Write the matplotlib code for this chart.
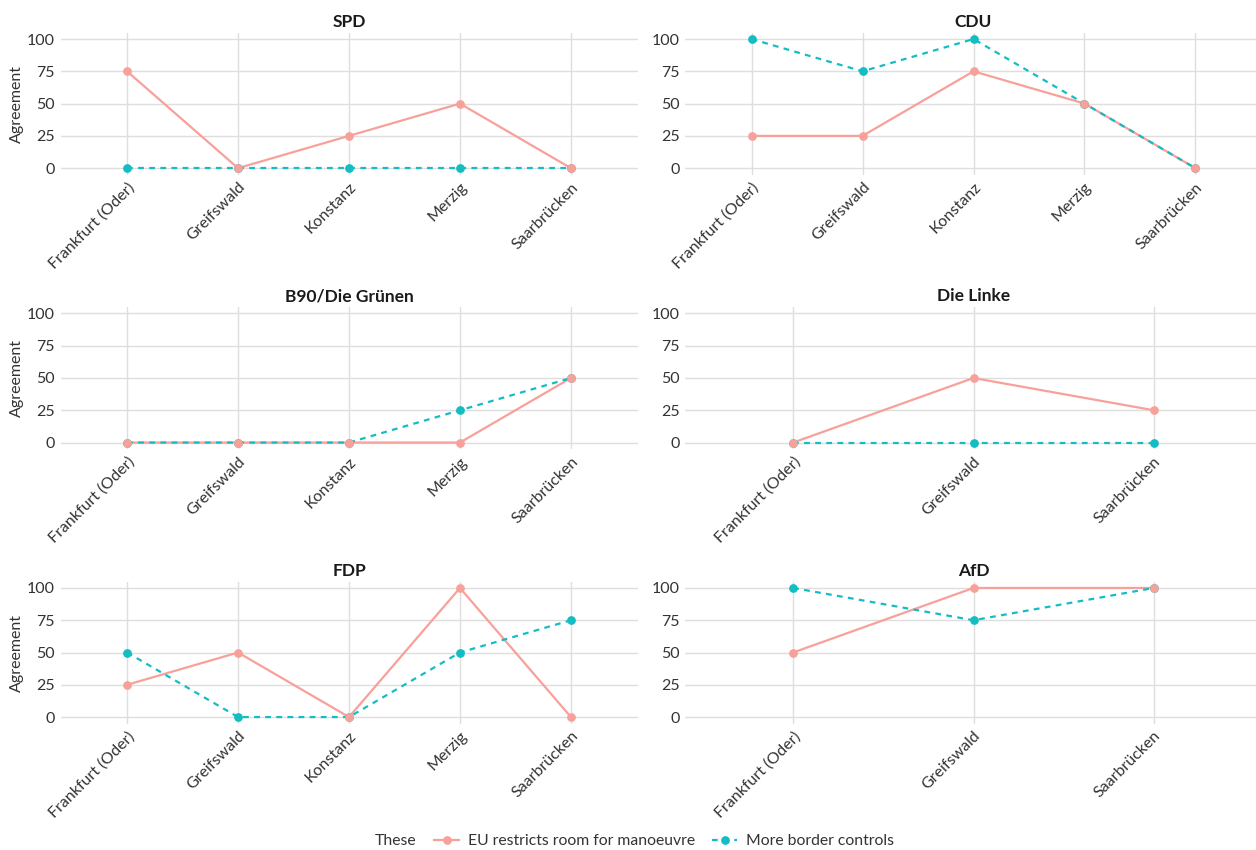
import numpy as np
import matplotlib
matplotlib.use("Agg")
import matplotlib.pyplot as plt
from matplotlib.lines import Line2D

plt.rcParams['font.family'] = ['Lato', 'DejaVu Sans']

# data
parties = ['SPD', 'CDU', 'B90/Die Grünen', 'Die Linke', 'FDP', 'AfD']
cities5 = ['Frankfurt (Oder)', 'Greifswald', 'Konstanz', 'Merzig', 'Saarbrücken']
cities3 = ['Frankfurt (Oder)', 'Greifswald', 'Saarbrücken']
party_cities = [cities5, cities5, cities5, cities3, cities5, cities3]

eu_restricts = [
    [75, 0, 25, 50, 0],
    [25, 25, 75, 50, 0],
    [0, 0, 0, 0, 50],
    [0, 50, 25],
    [25, 50, 0, 100, 0],
    [50, 100, 100],
]
border_controls = [
    [0, 0, 0, 0, 0],
    [100, 75, 100, 50, 0],
    [0, 0, 0, 25, 50],
    [0, 0, 0],
    [50, 0, 0, 50, 75],
    [100, 75, 100],
]
series_names = ['EU restricts room for manoeuvre', 'More border controls']

c_eu = '#F8A09A'
c_bc = '#14BDC2'
grid_c = '#DEDEDE'
text_c = '#333333'

fig = plt.figure(figsize=(12.56, 8.5), dpi=100)

W, H = 1256, 850
col_x = [60.5, 685]
col_w = 577
row_top = [32.6, 307, 581.5]
row_h = 142
ms = 6.3

for i, party in enumerate(parties):
    r, c = divmod(i, 2)
    ax = fig.add_axes([col_x[c] / W, 1 - (row_top[r] + row_h) / H, col_w / W, row_h / H])
    cats = party_cities[i]
    x = np.arange(len(cats))
    ax.plot(x, eu_restricts[i], color=c_eu, lw=1.6, zorder=3)
    ax.plot(x, border_controls[i], color=c_bc, lw=1.6, ls=(0, (2.6, 2.4)), zorder=4)
    ax.plot(x, border_controls[i], 'o', color=c_bc, ms=ms, mec='none', zorder=5)
    ax.plot(x, eu_restricts[i], 'o', color=c_eu, ms=ms, mec='none', zorder=6)

    ax.set_xlim(-0.6, len(cats) - 1 + 0.6)
    ax.set_ylim(-5, 105)
    ax.set_yticks([0, 25, 50, 75, 100])
    ax.set_xticks(x)
    ax.set_xticklabels(cats, rotation=45, ha='right', va='top', rotation_mode='anchor')
    ax.tick_params(length=0, labelsize=11.5, colors=text_c, pad=4)
    ax.grid(True, color=grid_c, lw=1.0)
    ax.set_axisbelow(True)
    for s in ax.spines.values():
        s.set_visible(False)
    ax.set_title(party, fontsize=12.5, fontweight='bold', color='#1A1A1A', pad=4)
    if c == 0:
        ax.set_ylabel('Agreement', fontsize=11.5, color=text_c, labelpad=2)

handles = [
    Line2D([], [], color=c_eu, lw=1.6, marker='o', ms=ms, mec='none'),
    Line2D([], [], color=c_bc, lw=1.6, ls=(0, (2.6, 2.4)), marker='o', ms=ms, mec='none'),
]
fig.text(375 / W, 1 - 841 / H, 'These', fontsize=11.3, color=text_c, va='center', ha='left')
fig.legend(handles, series_names, loc='center left', bbox_to_anchor=(434 / W, 1 - 841 / H),
           ncol=2, frameon=False, fontsize=11.3, handlelength=1.6, handletextpad=0.55,
           columnspacing=1.1, labelcolor=text_c, borderaxespad=0, borderpad=0)

fig.savefig('out.png', dpi=100)
